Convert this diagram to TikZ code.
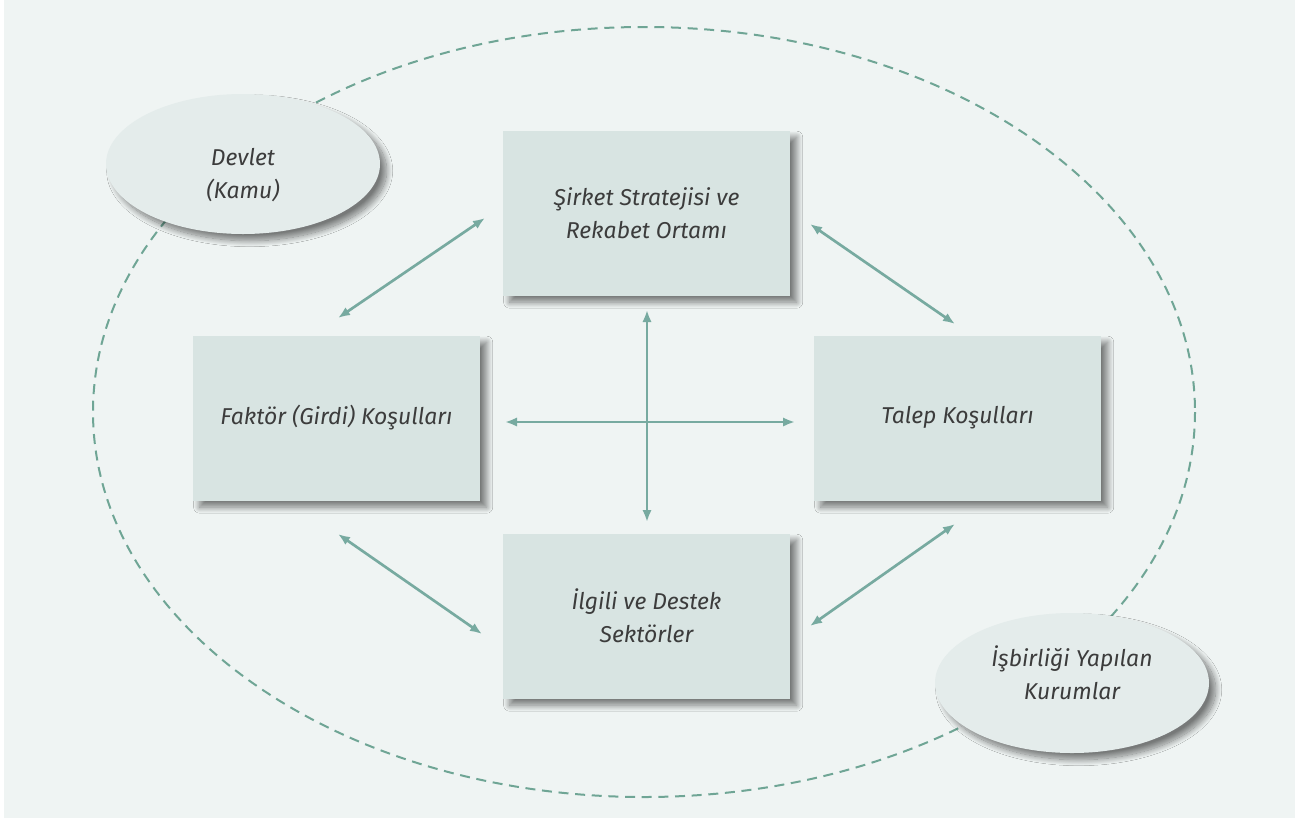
\documentclass[tikz,border=0pt]{standalone}
\usepackage{fontspec}
\setmainfont{Fira Sans}
\usetikzlibrary{shadows.blur,arrows.meta,shapes.geometric}
\definecolor{bgc}{HTML}{EFF4F3}
\definecolor{boxc}{HTML}{D8E4E2}
\definecolor{ellc}{HTML}{E4ECEB}
\definecolor{linec}{HTML}{77AAA0}
\definecolor{dashc}{HTML}{6FA595}
\definecolor{txtc}{HTML}{3C3C3C}
\tikzset{
  lbl/.style={font=\itshape\fontsize{17.2}{24.5}\selectfont, text=txtc, align=center},
  softshadow/.style={blur shadow={shadow xshift=5pt, shadow yshift=-5pt, shadow blur radius=4.5pt, shadow blur steps=16, shadow opacity=50}},
  factor/.style={lbl, rectangle, fill=boxc, minimum width=287*0.75pt, minimum height=165*0.75pt, inner sep=0pt, softshadow},
  outer/.style={ellipse, fill=ellc, minimum width=274*0.75pt, minimum height=140*0.75pt, inner sep=0pt, softshadow},
  link/.style={draw=linec, line width=2pt, {Latex[length=9pt,width=7pt]}-{Latex[length=9pt,width=7pt]}},
}
\begin{document}
\begin{tikzpicture}[x=0.75pt,y=-0.75pt]
\useasboundingbox (0,0) rectangle (1295,818);
\fill[white] (0,0) rectangle (1295,818);
\fill[bgc] (4,0) rectangle (1295,818);
\draw[dashc, line width=1.5pt, dash pattern=on 7.5pt off 5pt] (644,412) ellipse [x radius=551, y radius=385];
\node[outer] (devlet) at (243,164) {};
\node[lbl] (devlett) at (243,175) {Devlet\\(Kamu)};
\node[outer] (isb) at (1072,683) {};
\node[lbl] (isbt) at (1072,673) {İşbirliği Yapılan\\Kurumlar};
\node[factor] (sirket) at (646.5,213) {Şirket Stratejisi ve\\Rekabet Ortamı};
\node[factor] (faktor) at (336.5,418) {Faktör (Girdi) Koşulları};
\node[factor] (talep) at (957.5,418) {Talep Koşulları};
\node[factor] (ilgili) at (646.5,616) {İlgili ve Destek\\Sektörler};
\coordinate (a1) at (338,318); \coordinate (a2) at (485,218);
\coordinate (b1) at (810,224); \coordinate (b2) at (955,324);
\coordinate (c1) at (338,534); \coordinate (c2) at (482,634);
\coordinate (d1) at (810,626); \coordinate (d2) at (955,524);
\coordinate (h1) at (505,422); \coordinate (h2) at (795,422);
\coordinate (v1) at (647,310); \coordinate (v2) at (647,522);
\draw[link] (a1) -- (a2);
\draw[link] (b1) -- (b2);
\draw[link] (c1) -- (c2);
\draw[link] (d1) -- (d2);
\draw[link] (h1) -- (h2);
\draw[link] (v1) -- (v2);
\end{tikzpicture}
\end{document}
